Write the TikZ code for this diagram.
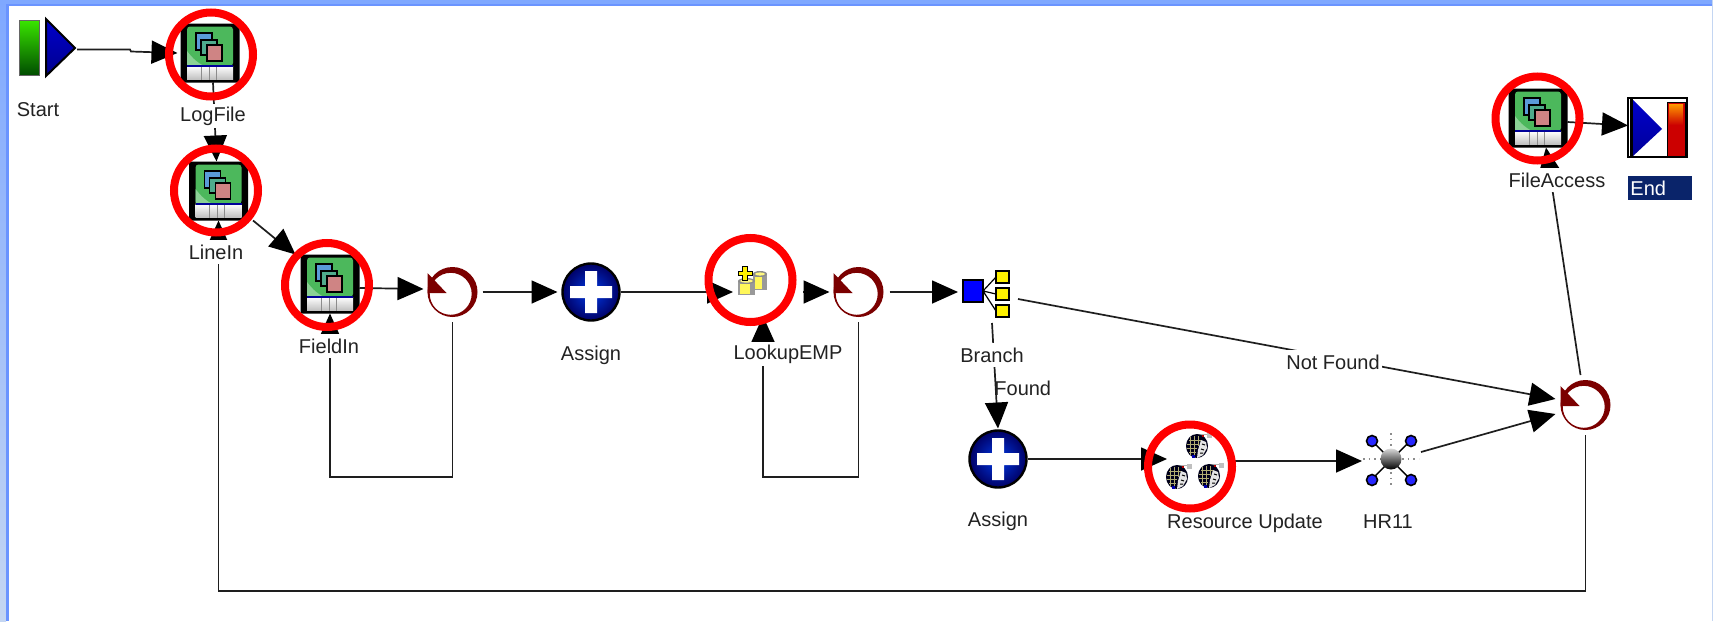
\documentclass[tikz,border=0pt]{standalone}
\usepackage{fontspec}
\setmainfont{Liberation Sans}
\usetikzlibrary{arrows.meta,calc}
\pgfdeclarelayer{under}
\pgfsetlayers{under,main}
\definecolor{loopred}{HTML}{7B0000}
\definecolor{linecol}{HTML}{1E1E1E}
\definecolor{labelcol}{HTML}{222222}
\definecolor{bandtop}{HTML}{7FA8FF}
\definecolor{bandbot}{HTML}{C4D6F2}
\definecolor{bandline}{HTML}{6A94FF}
\definecolor{endnavy}{HTML}{0A246A}
\definecolor{icongreen}{HTML}{4CB85C}
\definecolor{paneblue}{HTML}{5A9BD8}
\definecolor{paneteal}{HTML}{4FAB8C}
\definecolor{panepink}{HTML}{CF8484}
\tikzset{
  x=0.5pt,y=-0.5pt,
  conn/.style={draw=linecol,line width=0.85pt,-{Triangle[length=13pt,width=11.5pt,color=black,fill=black]}},
  lab/.style={font=\fontsize{10pt}{11pt}\selectfont,text=labelcol,fill=white,inner xsep=1pt,inner ysep=0pt,minimum height=12pt},
  free/.style={font=\fontsize{10pt}{11pt}\selectfont,text=labelcol,inner sep=0pt},
  hotring/.style={circle,draw=red,line width=4pt,minimum size=42pt,inner sep=0pt,outer sep=0pt},
}
% stacked-window icon
\newcommand{\fileicon}[3]{%
  \node[inner sep=0pt,outer sep=0pt,minimum width=29.5pt,minimum height=29.5pt] (#1) at (#2,#3) {};
  \begin{scope}[shift={(#2,#3)}]
    \fill[black,rounded corners=1pt] (-29.5,-29.5) rectangle (29.5,29.5);
    \fill[icongreen,rounded corners=1.5pt] (-23,-26.5) rectangle (23,13);
    \fill[white!35!icongreen] (-23,13) -- (-23,-2) .. controls (-17,6) and (-12,10) .. (-6,13) -- cycle;
    \fill[top color=white,bottom color=black!25] (-23,13) rectangle (23,26.5);
    \draw[blue!60!black,line width=0.8pt] (-23,13) -- (23,13);
    \draw[black!45,line width=0.5pt] (-9,14) -- (-9,26.5) (-1,14) -- (-1,26.5) (6,14) -- (6,26.5);
    \draw[black,line width=0.6pt,fill=paneblue] (-14,-20) rectangle (2,-3);
    \draw[black,line width=0.6pt,fill=paneteal] (-9,-13) rectangle (7,2);
    \draw[black,line width=0.6pt,fill=panepink] (-3,-8) rectangle (12,8);
  \end{scope}}
% circular arrow
\newcommand{\redoicon}[3]{%
  \node[circle,inner sep=0pt,outer sep=0pt,minimum size=25pt] (#1) at (#2,#3) {};
  \begin{scope}[shift={(#2,#3)}]
    \fill[loopred,even odd rule] (0,0) circle[radius=25] (-1.8,1.8) circle[radius=21];
    \fill[loopred] (-25,-19) -- (-6,1) -- (-25,1) -- cycle;
  \end{scope}}
% assign
\newcommand{\assignicon}[3]{%
  \node[circle,inner sep=0pt,outer sep=0pt,minimum size=29.5pt] (#1) at (#2,#3) {};
  \begin{scope}[shift={(#2,#3)}]
    \shade[inner color=blue!75!cyan!90!black,outer color=blue!40!black,draw=black,line width=1.2pt] (0,0) circle[radius=28.5];
    \fill[white] (-21,-6) -- (-6,-6) -- (-6,-21) -- (6,-21) -- (6,-6) -- (21,-6) -- (21,6) -- (6,6) -- (6,21) -- (-6,21) -- (-6,6) -- (-21,6) -- cycle;
  \end{scope}}
% person head
\newcommand{\personicon}[2]{%
  \begin{scope}[shift={(#1,#2)}]
    \draw[black!30,line width=0.5pt] (-1,-13) -- (11,-13);
    \fill[black!25] (10,-14) rectangle (15,-9);
    \fill[black!90!blue] (0,-1) ellipse[x radius=11,y radius=12];
    \fill[black!10] (4,-7) -- (9,-5) -- (10,1) -- (6,8) -- (0,11) -- (1,3) -- cycle;
    \draw[black,line width=0.5pt] (5,-3) -- (8,-2) (4,2) -- (7,3) (3,6) -- (6,6);
    \draw[yellow!50!black!70,line width=0.35pt] (-8,-7) -- (4,-7) (-10,-3) -- (2,-3) (-10,1) -- (0,1) (-8,5) -- (-1,5)
       (-7,-10) -- (-7,8) (-3,-11) -- (-3,9) (1,-11) -- (1,-1);
    \fill[blue!70!black] (-5,8) rectangle (-2,11);
    \fill[red!70!black] (5,-12) rectangle (7,-10);
  \end{scope}}
% database
\newcommand{\dbcyl}[4]{%
  \fill[black!40] (#1,#2) rectangle (#3,#4);
  \fill[yellow!65!white] (#1+2,#2+3) rectangle (#3-5,#4-1);
  \fill[black!45] ({(#1+#3)/2},#2) ellipse[x radius={(#3-#1)/2},y radius=3];
  \fill[yellow!50!white] ({(#1+#3)/2},#2) ellipse[x radius={(#3-#1)/2-2},y radius=1.6];
}
\begin{document}
\begin{tikzpicture}
\useasboundingbox (0,0) rectangle (1713,621);
\begin{pgfonlayer}{under}
  \fill[white] (0,0) rectangle (1713,621);
  \shade[top color=bandtop,bottom color=bandbot] (0,0) rectangle (6,621);
  \fill[bandline] (6,5) rectangle (8.5,621);
  \fill[bandtop] (0,0) rectangle (1713,4);
  \fill[bandline] (6,4) rectangle (1713,6);
  \fill[bandbot] (1712,0) rectangle (1713,621);
\end{pgfonlayer}
% start
\node[inner sep=0pt,outer sep=0pt,minimum width=28.5pt,minimum height=29.5pt] (start) at (47.5,47.5) {};
\shade[top color=green!75!yellow!90!black,bottom color=green!30!black,draw=black!60,line width=0.5pt] (19,20) rectangle (39,75);
\shade[top color=blue!80!black,bottom color=blue!55!black,draw=black,line width=1pt] (46,19) -- (75,48) -- (46,76) -- cycle;
% end
\node[inner sep=0pt,outer sep=0pt,minimum width=29.5pt,minimum height=29.5pt] (finish) at (1657.5,127.5) {};
\draw[fill=white,draw=black,line width=0.7pt] (1628,98) rectangle (1687,157);
\fill[black] (1630,99) rectangle (1633,156);
\shade[top color=blue!80!black,bottom color=blue!60!black] (1633,100) -- (1662,129) -- (1633,156) -- cycle;
\fill[red!80!black] (1667,102) rectangle (1685,156);
\shade[top color=orange!80!yellow,bottom color=red!80!black] (1669,104) rectangle (1683,125);
\draw[black,line width=0.3pt] (1667,102) rectangle (1685,156);
% file icons
\fileicon{logfile}{210}{53}
\fileicon{linein}{218.5}{191}
\fileicon{fieldin}{330}{284}
\fileicon{fileaccess}{1538}{118}
% loops
\redoicon{loopa}{452.5}{292}
\redoicon{loopb}{858.5}{292}
\redoicon{loopc}{1585.5}{405}
% assigns
\assignicon{assigna}{591}{292}
\assignicon{assignb}{998}{459}
% lookup
\node[inner sep=0pt,outer sep=0pt,minimum width=17pt,minimum height=15pt] (lookup) at (750,283) {};
\dbcyl{753}{274}{767}{290}
\dbcyl{738}{281}{755}{295}
\fill[yellow,draw=black,line width=0.5pt] (742.5,266) -- (747.5,266) -- (747.5,271) -- (752,271) -- (752,275) -- (747.5,275) -- (747.5,280) -- (742.5,280) -- (742.5,275) -- (738,275) -- (738,271) -- (742.5,271) -- cycle;
% branch
\node[inner sep=0pt,outer sep=0pt,minimum width=23pt,minimum height=23pt] (branch) at (986,294) {};
\draw[black,line width=0.6pt] (983,291) -- (996,277) (983,291) -- (996,294) (983,291) -- (996,311);
\draw[black,fill=blue,line width=0.7pt] (963,280) rectangle (983,302);
\draw[black,fill=yellow,line width=0.7pt] (996,271) rectangle (1009,283);
\draw[black,fill=yellow,line width=0.7pt] (996,288) rectangle (1009,300);
\draw[black,fill=yellow,line width=0.7pt] (996,305) rectangle (1009,317);
% resource
\node[inner sep=0pt,outer sep=0pt,minimum width=26.5pt,minimum height=27.5pt] (resource) at (1193.5,462.5) {};
\personicon{1197}{447}
\personicon{1177}{478}
\personicon{1209}{477}
% hr11
\node[inner sep=0pt,outer sep=0pt,minimum width=28pt,minimum height=28pt] (hrnode) at (1391,459) {};
\draw[black!45,line width=0.8pt,dotted] (1363,459) -- (1419,459) (1391,433) -- (1391,487);
\draw[black,line width=0.7pt] (1372,441) -- (1410,479) (1410,441) -- (1372,479);
\foreach \px/\py in {1372/441,1411/441,1372/480,1411/480}
  \draw[black,fill=blue!85!white,line width=0.8pt] (\px,\py) circle[radius=5.5];
\shade[top color=black!15,bottom color=black] (1391,459) circle[radius=10.5];
% labels
\node[free] (tstart) at (38,110) {Start};
\node[lab] (tlogfile) at (213,116) {LogFile};
\node[lab] (tlinein) at (216,252) {LineIn};
\node[lab] (tfieldin) at (329,346) {FieldIn};
\node[free] (tassigna) at (591,355) {Assign};
\node[lab] (tlookup) at (788,354) {LookupEMP};
\node[lab] (tbranch) at (992,355) {Branch};
\node[free,anchor=west] (tfound) at (994,388) {Found};
\node[lab] (tnotfound) at (1333,362) {Not Found};
\node[free] (tassignb) at (998,521) {Assign};
\node[free] (tresource) at (1245,523) {Resource Update};
\node[free] (thr) at (1388,522) {HR11};
\node[lab] (tfileaccess) at (1557,180) {FileAccess};
\node[anchor=west,fill=endnavy,text=white,font=\fontsize{10pt}{11pt}\selectfont,minimum width=32pt,minimum height=12pt,inner xsep=1pt,inner ysep=0pt,text width=30pt] (tend) at (1628,188) {End};
% free bends
\coordinate (lowa) at (400,477);
\coordinate (lowb) at (900,591);
\coordinate (lowc) at (800,477);
\coordinate (lookupin) at ($(lookup.south)+(13,18)$);
% connectors
\begin{pgfonlayer}{under}
  \draw[conn] ($(start.east)+(1,2)$) -- ++(53,0) -- ++(1,2) -- ($(logfile.west)+(-3,0)$);
  \draw[conn] ($(logfile.south)+(3,0)$) -- ($(linein.north)+(-2,0)$);
  \draw[conn] ($(linein.south east)+(5,0)$) -- ++(22,18) -- ++(3,1) -- ($(fieldin.north west)+(-5,0)$);
  \draw[conn] ($(fieldin.east)+(0,4)$) -- ($(loopa.west)+(-4,-3)$);
  \draw[conn] ($(loopa.east)+(5,0)$) -- ($(assigna.west)+(-4,0)$);
  \draw[conn] (assigna.east) -- ($(lookup.west)+(0,9)$);
  \draw[conn] ($(lookup.east)+(36,9)$) -- ($(loopb.west)+(-4,0)$);
  \draw[conn] ($(loopb.east)+(6,0)$) -- ($(branch.west)+(-5,-2)$);
  \draw[conn] ($(branch.south)+(6,6)$) -- ($(assignb.north)+(0,-1)$);
  \draw[conn] (assignb.east) -- ($(resource.west)+(0,-3.5)$);
  \draw[conn] ($(resource.east)+(8,-1.5)$) -- ($(hrnode.west)+(-1,2)$);
  \draw[conn] ($(hrnode.east)+(2,-7)$) -- ($(loopc.west)+(-5,9)$);
  \draw[conn] ($(branch.east)+(9,5)$) -- ($(loopc.west)+(-5,-6)$);
  \draw[conn] ($(loopc.north)+(-5,-5)$) -- ($(fileaccess.south)+(8,0)$);
  \draw[conn] ($(fileaccess.east)+(0,4)$) -- ($(finish.west)+(0,-2)$);
  \draw[conn] ($(loopa.south)+(0,5)$) |- (lowa) -| (fieldin.south);
  \draw[conn] ($(loopb.south)+(0,5)$) |- (lowc) -| (lookupin);
  \draw[conn] ($(loopc.south)+(0,5)$) |- (lowb) -| (linein.south);
\end{pgfonlayer}
% highlight rings
\node[hotring] (rlogfile) at (211,54.5) {};
\node[hotring] (rlinein) at (216,190.5) {};
\node[hotring] (rfieldin) at (327,285) {};
\node[hotring] (rlookup) at (750.5,280) {};
\node[hotring] (rresource) at (1190,466.5) {};
\node[hotring] (rfileaccess) at (1537.5,118.5) {};
\end{tikzpicture}
\end{document}
